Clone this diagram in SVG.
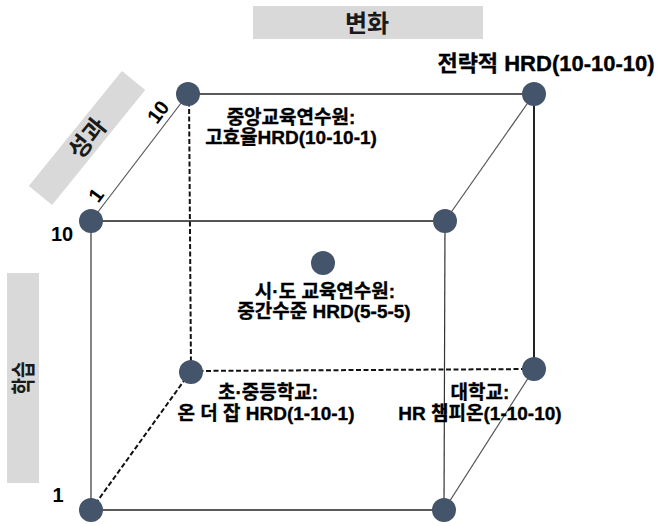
<svg xmlns="http://www.w3.org/2000/svg" width="662" height="526" viewBox="0 0 662 526">
<style>
.bg{fill:#ffffff}
.axisbox{fill:#d9d9d9}
.axistxt{font-family:"Noto Sans CJK KR",sans-serif;font-weight:bold;font-size:24px;fill:#1a1a1a;text-anchor:middle}
.lbl{font-family:"Liberation Sans","Noto Sans CJK KR",sans-serif;font-weight:bold;font-size:19px;fill:#000;stroke:#000;stroke-width:0.35;text-anchor:middle}
.num{font-family:"Liberation Sans",sans-serif;font-weight:bold;font-size:20px;fill:#000;text-anchor:middle}
.dot{fill:#44546a}
.solid{stroke:#222;stroke-width:1.6;fill:none}
.thin{stroke:#555;stroke-width:1.2;fill:none}
.dash{stroke:#111;stroke-width:2;stroke-dasharray:5 2.5;fill:none}
</style>
<rect class="bg" x="0" y="0" width="662" height="526"/>

<g id="axes">
  <rect class="axisbox" x="253" y="6" width="230" height="33"/>
  <text class="axistxt" x="367" y="32">변화</text>
  <g transform="translate(87,138) rotate(-51)">
    <rect class="axisbox" x="-74" y="-15" width="148" height="30"/>
    <text class="axistxt" x="0" y="9">성과</text>
  </g>
  <g transform="translate(23,378) rotate(-90)">
    <rect class="axisbox" x="-105" y="-16" width="210" height="32"/>
    <text class="axistxt" x="0" y="9" transform="scale(0.75,1)">학습</text>
  </g>
  <text class="num" x="62" y="241">10</text>
  <text class="num" x="58" y="502">1</text>
  <text class="num" transform="translate(158,112) rotate(-53)" x="0" y="7">10</text>
  <text class="num" transform="translate(96,195) rotate(-53)" x="0" y="7">1</text>
</g>

<g id="connectors">
  <line class="solid" x1="188" y1="94" x2="534" y2="94"/>
  <line class="solid" x1="91" y1="221" x2="445" y2="221" style="stroke:#555;stroke-width:2"/>
  <line class="thin" x1="91" y1="221" x2="188" y2="94"/>
  <line class="thin" x1="445" y1="221" x2="534" y2="94"/>
  <line class="solid" x1="534" y1="94" x2="534" y2="369" style="stroke-width:2"/>
  <line class="thin" x1="91" y1="221" x2="91" y2="510" style="stroke:#333"/>
  <line class="thin" x1="445" y1="221" x2="444" y2="510" style="stroke:#333"/>
  <line class="solid" x1="91" y1="510" x2="444" y2="510"/>
  <line class="thin" x1="444" y1="510" x2="534" y2="369"/>
  <line class="dash" x1="189" y1="94" x2="191" y2="371"/>
  <line class="dash" x1="191" y1="371" x2="534" y2="369"/>
  <line class="dash" x1="91" y1="510" x2="191" y2="371"/>
</g>

<g id="node-strategic">
  <circle class="dot" cx="534" cy="94" r="12"/>
  <text class="lbl" x="546" y="71" style="font-size:22px">전략적 HRD(10-10-10)</text>
</g>
<g id="node-central">
  <circle class="dot" cx="188" cy="94" r="12"/>
  <text class="lbl" x="291" y="124">중앙교육연수원:</text>
  <text class="lbl" x="291" y="144">고효율HRD(10-10-1)</text>
</g>
<g id="node-front-top-left">
  <circle class="dot" cx="91" cy="221" r="12"/>
</g>
<g id="node-front-top-right">
  <circle class="dot" cx="445" cy="221" r="12"/>
</g>
<g id="node-provincial">
  <circle class="dot" cx="323" cy="263" r="12"/>
  <text class="lbl" x="325" y="298">시·도 교육연수원:</text>
  <text class="lbl" x="324" y="318">중간수준 HRD(5-5-5)</text>
</g>
<g id="node-school">
  <circle class="dot" cx="191" cy="372" r="12"/>
  <text class="lbl" x="268" y="399">초·중등학교:</text>
  <text class="lbl" x="266" y="420">온 더 잡 HRD(1-10-1)</text>
</g>
<g id="node-university">
  <circle class="dot" cx="534" cy="369" r="12"/>
  <text class="lbl" x="480" y="399">대학교:</text>
  <text class="lbl" x="480" y="420">HR 챔피온(1-10-10)</text>
</g>
<g id="node-front-bottom-left">
  <circle class="dot" cx="91" cy="510" r="12"/>
</g>
<g id="node-front-bottom-right">
  <circle class="dot" cx="444" cy="510" r="12"/>
</g>
</svg>
